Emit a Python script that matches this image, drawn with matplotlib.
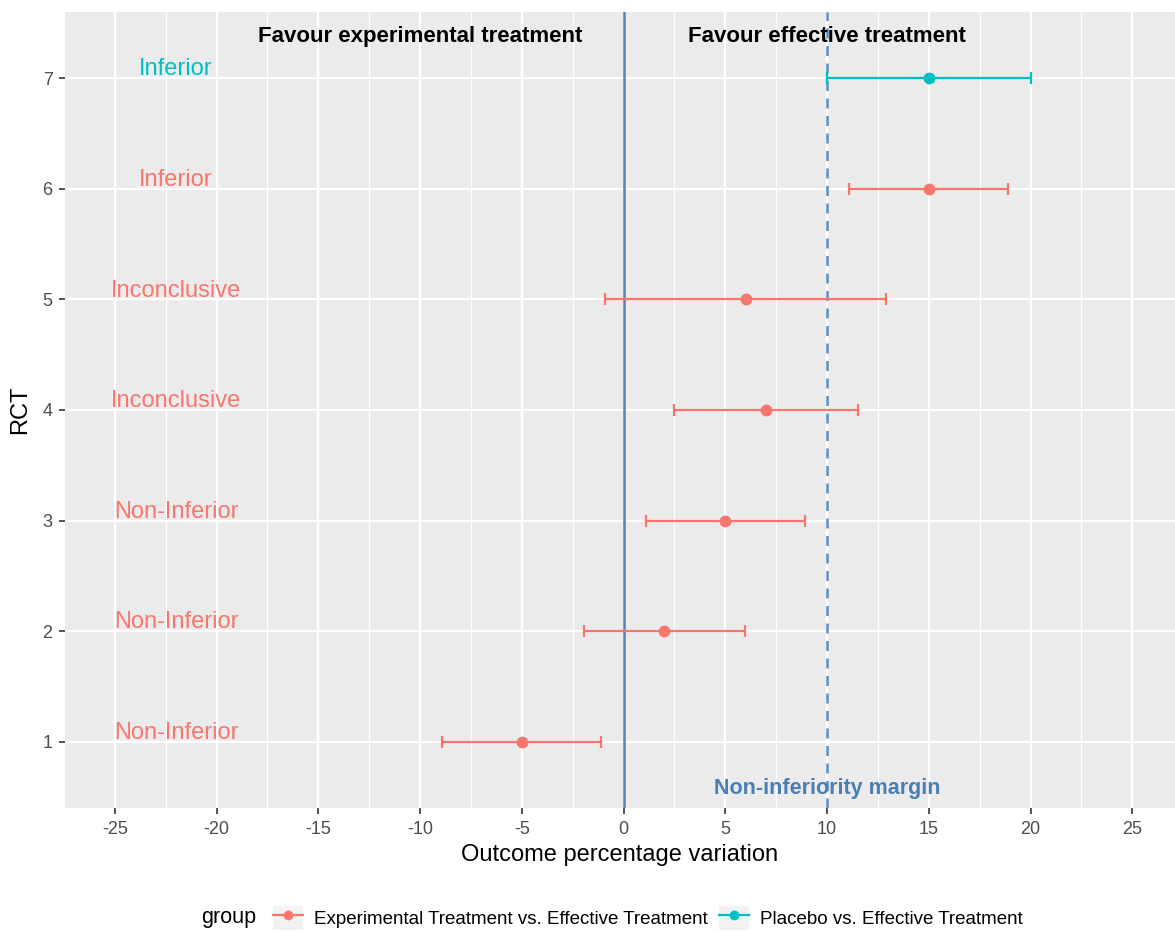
import numpy as np
import matplotlib.pyplot as plt
from matplotlib.lines import Line2D
from matplotlib.patches import Patch
from matplotlib.legend_handler import HandlerTuple
from matplotlib.offsetbox import HPacker

plt.rcParams['font.family'] = ['Liberation Sans', 'DejaVu Sans']
plt.rcParams['axes.unicode_minus'] = False

# RCT data
rct = [1, 2, 3, 4, 5, 6, 7]
estimate = [-5, 2, 5, 7, 6, 15, 15]
lower = [-8.9, -1.95, 1.1, 2.5, -0.9, 11.1, 10.0]
upper = [-1.1, 5.95, 8.9, 11.5, 12.9, 18.9, 20.0]
group = ['Experimental Treatment vs. Effective Treatment'] * 6 + ['Placebo vs. Effective Treatment']
verdict = ['Non-Inferior', 'Non-Inferior', 'Non-Inferior', 'Inconclusive',
           'Inconclusive', 'Inferior', 'Inferior']
groups = ['Experimental Treatment vs. Effective Treatment', 'Placebo vs. Effective Treatment']
colors = {groups[0]: '#F8766D', groups[1]: '#00BFC4'}
margin = 10
x_ticks = [-25, -20, -15, -10, -5, 0, 5, 10, 15, 20, 25]

fig = plt.figure(figsize=(11.75, 9.33), dpi=100)
ax = fig.add_axes([65 / 1175, 1 - 808 / 933, 1 - 65 / 1175, (808 - 12) / 933])
ax.set_facecolor('#EBEBEB')
for s in ax.spines.values():
    s.set_visible(False)

ax.set_xlim(-27.45, 27.1)
ax.set_ylim(0.4, 7.6)
ax.set_xticks(x_ticks)
ax.set_xticks(np.arange(-22.5, 25, 5), minor=True)
ax.set_yticks(rct)
ax.grid(which='major', color='white', linewidth=1.6)
ax.grid(which='minor', axis='x', color='white', linewidth=0.8)
ax.set_axisbelow(True)
ax.tick_params(which='major', length=4, width=1.2, color='#333333',
               labelcolor='#4D4D4D', labelsize=13, pad=5)
ax.tick_params(which='minor', length=0)

ax.axvline(0, color='#5482B2', linewidth=1.8)
ax.axvline(margin, color='#5B8EC4', linewidth=1.8, linestyle=(0, (4, 3)))

for i in range(len(rct)):
    c = colors[group[i]]
    ax.errorbar(estimate[i], rct[i], xerr=[[estimate[i] - lower[i]], [upper[i] - estimate[i]]],
                fmt='o', color=c, ecolor=c, elinewidth=1.6, capsize=4, capthick=1.6,
                markersize=7.5)
    ax.text(-22, rct[i] + 0.08, verdict[i], color=c, fontsize=17,
            ha='center', va='center')

ax.text(-10, 7.38, 'Favour experimental treatment', fontsize=16, fontweight='bold',
        ha='center', va='center', color='black')
ax.text(10, 7.38, 'Favour effective treatment', fontsize=16, fontweight='bold',
        ha='center', va='center', color='black')
ax.text(10, 0.575, 'Non-inferiority margin', fontsize=15.5, fontweight='bold',
        ha='center', va='center', color='#4A7FB5')

ax.set_xlabel('Outcome percentage variation', fontsize=17, labelpad=5)
ax.set_ylabel('RCT', fontsize=17, labelpad=8)

handles = [(Patch(facecolor='#F2F2F2', edgecolor='none'),
            Line2D([0], [0], color=colors[g], marker='o', markersize=6, linewidth=1.6))
           for g in groups]
leg = fig.legend(handles, groups, loc='center', bbox_to_anchor=(612 / 1175, 1 - 918 / 933),
                 ncol=2, frameon=False, fontsize=13.5, title='group', title_fontsize=15.5,
                 handlelength=1.6, handleheight=1.6, columnspacing=0.6, handletextpad=0.6,
                 handler_map={tuple: HandlerTuple(ndivide=1)})
# put the title to the left of the entries like ggplot
title_box = leg._legend_title_box
items = leg._legend_handle_box
leg._legend_box._children = [HPacker(pad=0, sep=12, children=[title_box, items], align='center')]

fig.savefig('out.png', dpi=100)
